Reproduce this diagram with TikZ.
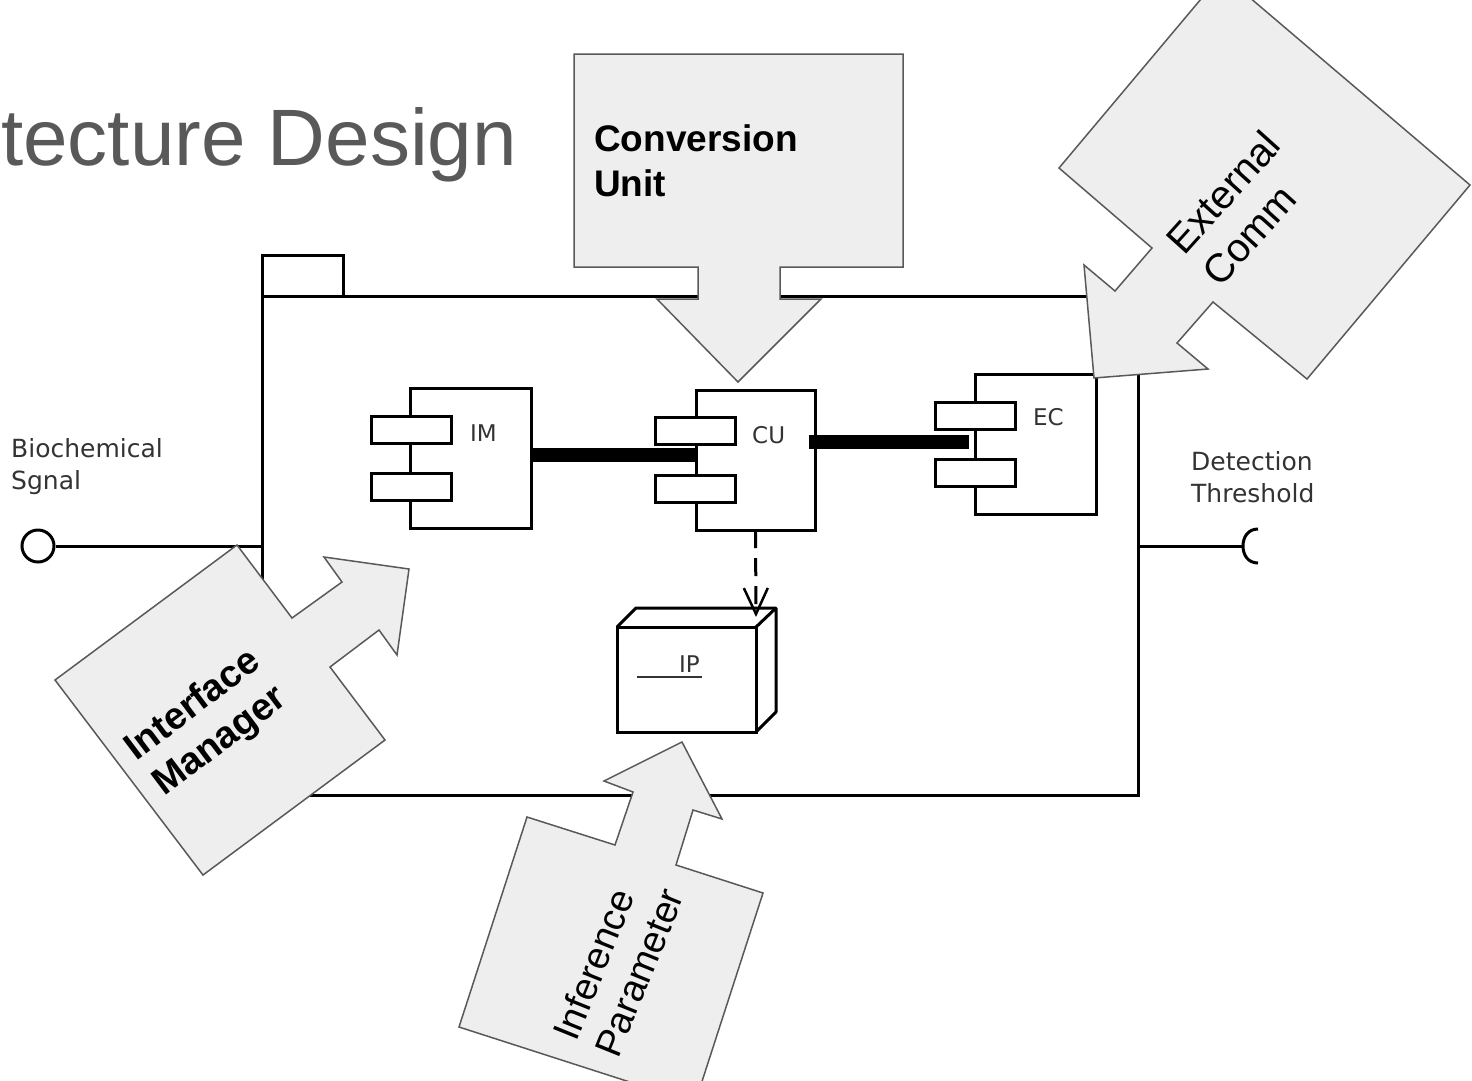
\documentclass[tikz,border=0pt]{standalone}
\usepackage{fontspec}
\setmainfont{Liberation Sans}
\newfontfamily\dejavu{DejaVu Sans}
\usetikzlibrary{arrows.meta,calc}
\definecolor{calloutfill}{HTML}{EEEEEE}
\definecolor{calloutdraw}{HTML}{595959}
\definecolor{titlegray}{HTML}{595959}
\definecolor{lblgray}{HTML}{333333}
\begin{document}
\begin{tikzpicture}[x=1pt,y=-1pt,
  comp/.style={draw=black, line width=3pt, fill=white, inner sep=0pt, outer sep=0pt},
  port/.style={draw=black, line width=3pt, fill=white, minimum width=80pt, minimum height=27pt, inner sep=0pt, outer sep=0pt},
  lbl/.style={font=\dejavu\fontsize{23}{28}\selectfont, text=lblgray, inner sep=0pt},
  side/.style={font=\dejavu\fontsize{25}{32}\selectfont, text=lblgray, inner sep=0pt, align=left},
  callout/.style={fill=calloutfill, draw=calloutdraw, line width=1.5pt, line join=miter},
  ctext/.style={inner sep=0pt, align=left},
  bar/.style={line width=14pt},
  wire/.style={line width=3pt},
]
\useasboundingbox (0,0) rectangle (1472,1080);
\clip (0,0) rectangle (1472,1080);
\fill[white] (0,0) rectangle (1472,1080);

% title
\node[anchor=base west, inner sep=0pt, text=titlegray, font=\fontsize{80}{96}\selectfont] (title) at (1,165) {tecture Design};

% package frame
\node[comp, minimum width=876pt, minimum height=499pt] (pkg) at (700,545.5) {};
\node[comp, minimum width=81pt, minimum height=41pt] (tab) at (302.5,275.5) {};

% components
\node[comp, minimum width=121pt, minimum height=140pt] (IM) at (470.5,458) {};
\node[port] (IMp1) at (411,430) {};
\node[port] (IMp2) at (411,486.5) {};
\node[lbl, anchor=base west] (IMl) at (470,441) {IM};

\node[comp, minimum width=119pt, minimum height=140pt] (CU) at (755.5,460) {};
\node[port] (CUp1) at (695.5,430.5) {};
\node[port] (CUp2) at (695.5,488.5) {};
\node[lbl, anchor=base west] (CUl) at (752,443) {CU};

\node[comp, minimum width=121pt, minimum height=140pt] (EC) at (1035.5,444) {};
\node[port] (ECp1) at (975.5,416) {};
\node[port] (ECp2) at (975.5,472.5) {};
\node[lbl, anchor=base west] (ECl) at (1033,425) {EC};

% connectors
\draw[bar] (IM.east |- 0,454.5) -- (CU.west |- 0,454.5);
\draw[bar] ($(CU.east |- 0,442)+(-6,0)$) -- ($(EC.west |- 0,442)+(-6,0)$);

% IP node (3D box)
\node[comp, minimum width=139pt, minimum height=105pt] (IP) at (686.5,679.5) {};
\draw[wire, line join=round] (IP.north west) -- ++(19,-19) -- ++(140,0) -- ($(IP.south east)+(20,-20)$) -- (IP.south east);
\draw[wire] (IP.north east) -- ++(20,-19);
\node[lbl, anchor=base west] (IPl) at (679,672) {IP};
\draw[line width=1.5pt, lblgray] (637,677) -- (702,677);
\coordinate (IPtip) at ($(IP.north east)+(0,-10)$);
\draw[wire, dash pattern=on 18pt off 10pt, -{Straight Barb[length=26pt,width=24pt,line width=2.5pt]}] (CU.south) -- (IPtip);

% interfaces
\node[circle, draw, line width=3pt, fill=white, minimum size=32pt, inner sep=0pt] (bsig) at (38,546) {};
\coordinate (pkgL) at (pkg.west |- 0,546);
\draw[wire] (bsig.east) -- (pkgL);
\node[side, anchor=north west] (biot) at (11,438) {Biochemical\\Sgnal};

\coordinate (pkgR) at (pkg.east |- 0,546);
\coordinate (sock) at (1243,546);
\draw[wire] (pkgR) -- (sock);
\draw[wire] (1258,529) .. controls (1248,529) and (1243,537) .. (sock) .. controls (1243,555) and (1248,563) .. (1258,563);
\node[side, anchor=north west] (dett) at (1191,451) {Detection\\Threshold};

% callouts
\draw[callout] (574,54) -- (903,54) -- (903,267) -- (780,267) -- (780,299) -- (821,299) -- (738,382) -- (657,299) -- (698,299) -- (698,267) -- (574,267) -- cycle;
\node[ctext, anchor=north west, font=\bfseries\fontsize{37}{45}\selectfont] (cuText) at (594,124) {Conversion\\Unit};

\draw[callout] (1222,-26) -- (1470,185) -- (1307,379) -- (1213,302) -- (1177,343) -- (1208,369) -- (1094,378) -- (1084,265) -- (1115,291) -- (1152,248) -- (1059,168) -- cycle;
\node[ctext, rotate=48, font=\fontsize{40}{48}\selectfont] (ecText) at (1241,208) {External\\Comm};

\draw[callout] (237,545) -- (292,618) -- (342,582) -- (324,557) -- (409,569) -- (397,655) -- (379,630) -- (330,667) -- (385,740) -- (203,875) -- (55,680) -- cycle;
\node[ctext, align=center, rotate=37, font=\bfseries\fontsize{38}{45}\selectfont] (imText) at (207,724) {Interface\\Manager};

\draw[callout] (527,817) -- (615,845) -- (633,792) -- (604,781) -- (682,742) -- (722,819) -- (693,810) -- (676,865) -- (763,893) -- (695,1103) -- (459,1027) -- cycle;
\node[ctext, rotate=68, font=\fontsize{38}{45}\selectfont] (ipText) at (618,964) {Inference\\Parameter};
\end{tikzpicture}
\end{document}
